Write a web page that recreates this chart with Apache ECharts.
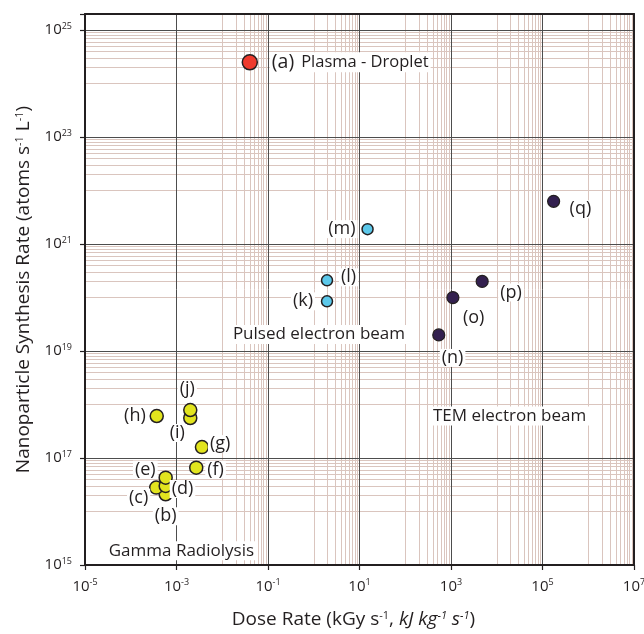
<!DOCTYPE html>
<html><head><meta charset="utf-8">
<script src="https://cdn.jsdelivr.net/npm/echarts@6/dist/echarts.min.js"></script>
<style>html,body{margin:0;padding:0;background:#fff}#c{width:644px;height:634px}</style>
</head><body><div id="c"></div>
<script>
// ---------- data ----------
const plasmaLabels = ['(a)'];
const plasmaDose   = [0.040];
const plasmaRate   = [2.5e24];

const pulsedLabels = ['(k)', '(l)', '(m)'];
const pulsedDose   = [1.95, 1.95, 15];
const pulsedRate   = [8.5e19, 2.1e20, 1.9e21];

const temLabels = ['(n)', '(o)', '(p)', '(q)'];
const temDose   = [540, 1100, 4800, 1.75e5];
const temRate   = [2.0e19, 1.0e20, 2.0e20, 6.3e21];

const gammaLabels = ['(b)', '(c)', '(d)', '(e)', '(f)', '(g)', '(h)', '(i)', '(j)'];
const gammaDose   = [5.8e-4, 3.6e-4, 5.8e-4, 5.8e-4, 2.7e-3, 3.6e-3, 3.7e-4, 2.0e-3, 2.0e-3];
const gammaRate   = [2.1e16, 2.8e16, 3.0e16, 4.3e16, 6.6e16, 1.6e17, 6.1e17, 5.6e17, 7.9e17];

const regionNames = ['Pulsed electron beam', 'TEM electron beam', 'Gamma Radiolysis'];
const regionDose  = [1.3, 1.9e4, 1.28e-3];
const regionRate  = [2.04e19, 6.1e17, 1.85e15];
const plasmaRegionName = 'Plasma - Droplet';

const xMin = 1e-5, xMax = 1e7;
const yMin = 1e15, yMax = 2e25;
const tickStepDecades = 2;

// minor grid decades (lines at k*10^e, k = 1..9)
const minorXDecades = [-4, -2, 0, 2, 4, 6];
const minorYDecades = [16, 18, 20, 22, 24];

// ---------- styles ----------
const FONT = 'Open Sans';
const INK = '#231f20';
// label placement: [align, dx (text edge from point centre), dy]
const labelPlace = {
  '(a)': ['left', 22, 0],
  '(k)': ['right', -14, 0], '(l)': ['left', 14, -3], '(m)': ['right', -12, 0],
  '(n)': ['left', 3, 23], '(o)': ['left', 10, 20], '(p)': ['left', 18, 11], '(q)': ['left', 16, 8],
  '(b)': ['center', 0, 22], '(c)': ['right', -8, 10], '(d)': ['left', 6, 3], '(e)': ['right', -10, -8],
  '(f)': ['left', 11, 2], '(g)': ['left', 8, -3], '(h)': ['right', -11, 0], '(i)': ['center', -13, 15],
  '(j)': ['center', -3, -21]
};

function makeData(labels, xs, ys) {
  return xs.map((x, i) => {
    const p = labelPlace[labels[i]];
    const pad = 2;
    const dx = p[0] === 'left' ? p[1] - pad : (p[0] === 'right' ? p[1] + pad : p[1]);
    return { name: labels[i], value: [x, ys[i]], label: { align: p[0], offset: [dx, p[2]] } };
  });
}

const pointLabel = {
  show: true, position: 'inside', verticalAlign: 'middle', opacity: 1,
  color: INK, fontFamily: FONT, fontSize: 18, textBorderWidth: 0,
  backgroundColor: '#fff', padding: [0, 2], formatter: p => p.name
};

function supFmt(v) {
  const e = Math.log10(v), r = Math.round(e);
  if (Math.abs(e - r) > 1e-6) return '';
  return '10{s|' + r + '}';
}

const minorX = [], minorY = [];
minorXDecades.forEach(e => { for (let k = 1; k <= 9; k++) minorX.push(k * Math.pow(10, e)); });
minorYDecades.forEach(e => { for (let k = 1; k <= 9; k++) minorY.push(k * Math.pow(10, e)); });

const axisLabelCommon = {
  color: INK, fontFamily: FONT, fontSize: 15, lineHeight: 17, formatter: supFmt,
  rich: { s: { fontSize: 9, verticalAlign: 'top', lineHeight: 17, fontFamily: FONT, color: INK } }
};
const frameLine = { show: true, lineStyle: { color: INK, width: 2 } };

const chart = echarts.init(document.getElementById('c'), null, { renderer: 'canvas' });
chart.setOption({
  animation: false,
  backgroundColor: '#fff',
  grid: { left: 85, right: 10, top: 14, bottom: 69, outerBoundsMode: 'none' },
  xAxis: [{
    type: 'log', logBase: 10, min: xMin, max: xMax, interval: tickStepDecades, z: 3,
    axisLine: frameLine,
    axisTick: { show: true, length: 5, lineStyle: { color: INK, width: 1.2 } },
    axisLabel: Object.assign({ margin: 13 }, axisLabelCommon),
    splitLine: { show: true, lineStyle: { color: '#4d4d4d', width: 1 } },
    name: 'Dose Rate (kGy s{s|-1}, {i|kJ kg}{is|-1}{i| s}{is|-1})',
    nameLocation: 'middle', nameGap: 45,
    nameTextStyle: {
      color: INK, fontFamily: FONT, fontSize: 19, padding: [0, 12, 0, 0],
      rich: {
        s: { fontSize: 11, verticalAlign: 'top', fontFamily: FONT, color: INK },
        i: { fontSize: 19, fontStyle: 'italic', fontFamily: FONT, color: INK },
        is: { fontSize: 11, fontStyle: 'italic', verticalAlign: 'top', fontFamily: FONT, color: INK }
      }
    }
  }, {
    type: 'log', logBase: 10, min: xMin, max: xMax, position: 'top', z: 3,
    axisLine: frameLine, axisTick: { show: false }, axisLabel: { show: false }, splitLine: { show: false }
  }],
  yAxis: [{
    type: 'log', logBase: 10, min: yMin, max: yMax, interval: tickStepDecades, z: 3,
    axisLine: frameLine,
    axisTick: { show: true, length: 5, lineStyle: { color: INK, width: 1.2 } },
    axisLabel: Object.assign({ margin: 13 }, axisLabelCommon),
    splitLine: { show: true, lineStyle: { color: '#4d4d4d', width: 1 } },
    name: 'Nanoparticle Synthesis Rate (atoms s{s|-1} L{s|-1})',
    nameLocation: 'middle', nameGap: 52,
    nameTextStyle: {
      color: INK, fontFamily: FONT, fontSize: 19,
      rich: { s: { fontSize: 11, verticalAlign: 'top', fontFamily: FONT, color: INK } }
    }
  }, {
    type: 'log', logBase: 10, min: yMin, max: yMax, position: 'right', z: 3,
    axisLine: frameLine, axisTick: { show: false }, axisLabel: { show: false }, splitLine: { show: false }
  }],
  series: [
    {
      name: 'minorGrid', type: 'line', data: [], z: 1, silent: true,
      markLine: {
        silent: true, symbol: 'none', z: 1, animation: false,
        label: { show: false },
        lineStyle: { color: '#dac5be', width: 1, type: 'solid', opacity: 1 },
        emphasis: { disabled: true },
        data: minorX.map(v => ({ xAxis: v })).concat(minorY.map(v => ({ yAxis: v })))
      }
    },
    {
      name: 'regions', type: 'scatter', z: 6, symbolSize: 1, silent: true,
      itemStyle: { color: 'rgba(0,0,0,0)', opacity: 1 },
      data: regionNames.map((n, i) => ({ name: n, value: [regionDose[i], regionRate[i]] })),
      label: {
        show: true, position: 'inside', align: 'center', verticalAlign: 'middle', opacity: 1,
        color: INK, fontFamily: FONT, fontSize: 17, textBorderWidth: 0,
        backgroundColor: '#fff', padding: [1, 4], formatter: p => p.name
      }
    },
    {
      name: 'Gamma Radiolysis', type: 'scatter', z: 7, symbolSize: 13,
      itemStyle: { color: '#e2e41e', borderColor: INK, borderWidth: 1.5, opacity: 1 },
      label: pointLabel, data: makeData(gammaLabels, gammaDose, gammaRate)
    },
    {
      name: 'Pulsed electron beam', type: 'scatter', z: 7, symbolSize: 11,
      itemStyle: { color: '#5cc8ea', borderColor: INK, borderWidth: 1.5, opacity: 1 },
      label: pointLabel, data: makeData(pulsedLabels, pulsedDose, pulsedRate)
    },
    {
      name: 'TEM electron beam', type: 'scatter', z: 7, symbolSize: 12,
      itemStyle: { color: '#33204f', borderColor: INK, borderWidth: 1.2, opacity: 1 },
      label: pointLabel, data: makeData(temLabels, temDose, temRate)
    },
    {
      name: 'Plasma - Droplet', type: 'scatter', z: 7, symbolSize: 15,
      itemStyle: { color: '#ef3a2d', borderColor: INK, borderWidth: 1.5, opacity: 1 },
      label: Object.assign({}, pointLabel, {
        formatter: p => '{b|' + p.name + '}{t|' + plasmaRegionName + '}',
        rich: {
          b: { fontSize: 19.5, fontFamily: FONT, color: INK },
          t: { fontSize: 16.5, fontFamily: FONT, color: INK, padding: [0, 0, 0, 7] }
        }
      }),
      data: makeData(plasmaLabels, plasmaDose, plasmaRate)
    }
  ]
});
</script>
</body></html>
